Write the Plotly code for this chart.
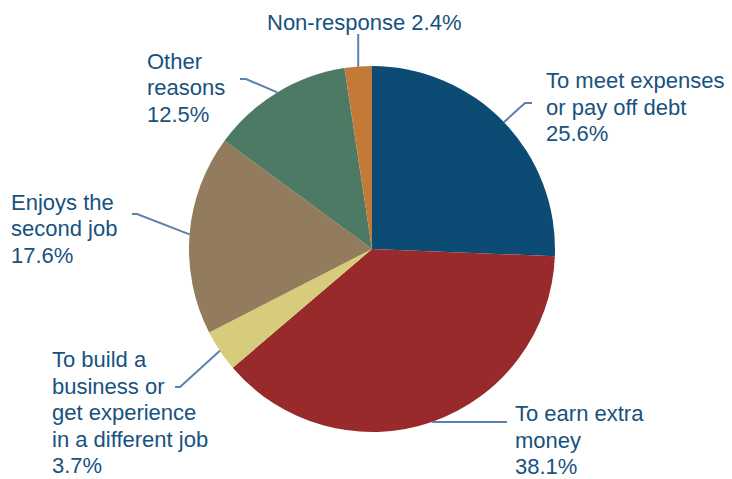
import math
import plotly.graph_objects as go

# Reasons for holding a second job (share of respondents, %)
reasons = [
    "To meet expenses or pay off debt",
    "To earn extra money",
    "To build a business or get experience in a different job",
    "Enjoys the second job",
    "Other reasons",
    "Non-response",
]
shares = [25.6, 38.1, 3.7, 17.6, 12.5, 2.4]
label_lines = [
    ["To meet expenses", "or pay off debt", "25.6%"],
    ["To earn extra", "money", "38.1%"],
    ["To build a", "business or", "get experience", "in a different job", "3.7%"],
    ["Enjoys the", "second job", "17.6%"],
    ["Other", "reasons", "12.5%"],
    ["Non-response 2.4%"],
]
slice_colors = ["#0B4B74", "#992A2C", "#D6CC7B", "#937B5D", "#4D7A64", "#C37A38"]

W, H = 732, 479
CX, CY, R = 372, 249, 183          # pie centre and radius in pixels
TEXT_COLOR = "#17527F"
LINE_COLOR = "#5A82AD"
FONT = "Liberation Sans, Arial, sans-serif"
FONT_SIZE = 22
LINE_STEP = 26.5
PAD = 3                            # annotation box padding to compensate

# label layout: (x of text, first baseline, x anchor, elbow points from label side)
label_layout = [
    dict(x=547, base=88, anchor="left", elbow=[(532, 103), (525, 103)]),
    dict(x=516, base=421, anchor="left", elbow=[(507, 422)]),
    dict(x=53, base=367, anchor="left", elbow=[(175, 387), (180, 387)]),
    dict(x=12, base=210, anchor="left", elbow=[(132, 214), (137, 214)]),
    dict(x=148, base=69, anchor="left", elbow=[(240, 79), (246, 79)]),
    dict(x=364, base=30, anchor="center", elbow=[(None, 34)]),
]


def px_to_paper(x, y):
    return x / W, 1 - y / H


fig = go.Figure(
    go.Pie(
        labels=reasons,
        values=shares,
        sort=False,
        direction="clockwise",
        rotation=0,
        textinfo="none",
        marker=dict(colors=slice_colors, line=dict(width=0)),
        showlegend=False,
        domain=dict(
            x=[(CX - R) / W, (CX + R) / W],
            y=[(H - CY - R) / H, (H - CY + R) / H],
        ),
    )
)

total = sum(shares)
cum = 0.0
shapes = []
annotations = []
for vals, lines, lay in zip(shares, label_lines, label_layout):
    mid = (cum + vals / 2) / total * 2 * math.pi
    cum += vals
    ex = CX + R * math.sin(mid)
    ey = CY - R * math.cos(mid)

    pts = []
    for (px, py) in lay["elbow"]:
        pts.append((ex if px is None else px, py))
    pts.append((ex, ey))
    path = ""
    for i, (px, py) in enumerate(pts):
        xp, yp = px_to_paper(px, py)
        path += ("M" if i == 0 else " L") + f" {xp:.5f},{yp:.5f}"
    shapes.append(dict(type="path", xref="paper", yref="paper", path=path,
                       line=dict(color=LINE_COLOR, width=2)))

    tx = lay["x"] - (PAD if lay["anchor"] == "left" else 0)
    for k, txt in enumerate(lines):
        baseline = lay["base"] + k * LINE_STEP
        xp, yp = px_to_paper(tx, baseline - 7.5)
        annotations.append(dict(
            x=xp, y=yp, xref="paper", yref="paper", text=txt,
            showarrow=False, xanchor=lay["anchor"], yanchor="middle",
            font=dict(family=FONT, size=FONT_SIZE, color=TEXT_COLOR),
        ))

fig.update_layout(
    width=W, height=H, autosize=False,
    margin=dict(l=0, r=0, t=0, b=0),
    paper_bgcolor="white", plot_bgcolor="white",
    shapes=shapes, annotations=annotations,
)

fig.write_html("out.html")
